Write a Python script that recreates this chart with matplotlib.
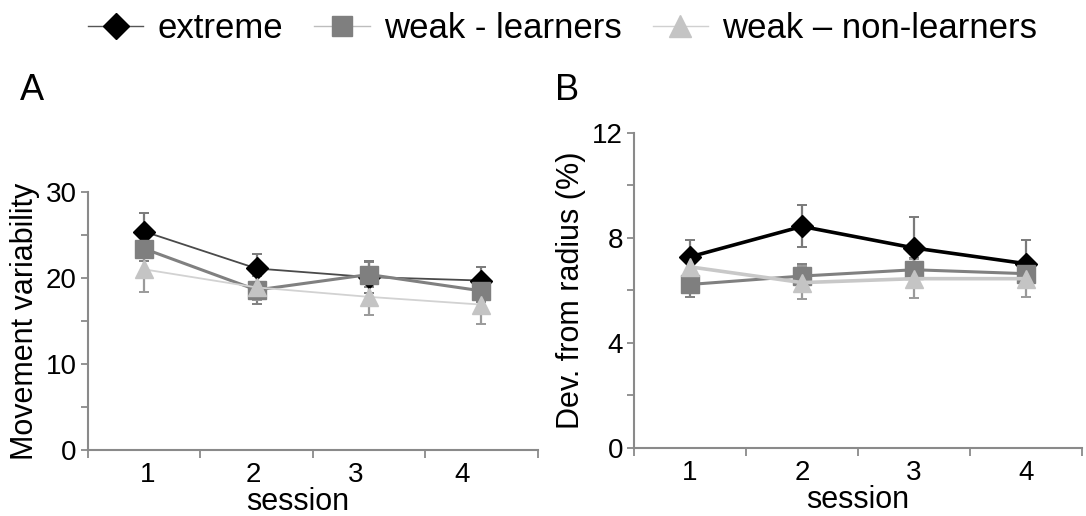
import matplotlib.pyplot as plt
from matplotlib.lines import Line2D
from matplotlib.ticker import MultipleLocator, FixedLocator

plt.rcParams["font.family"] = ["Liberation Sans", "DejaVu Sans"]

sessions = [1, 2, 3, 4]
session_labels = ["1", "2", "3", "4"]
names = ["extreme", "weak - learners", "weak \u2013 non-learners"]

# panel A: movement variability
a_extreme = [25.4, 21.1, 20.1, 19.7]
a_extreme_err = [2.1, 1.7, 1.9, 1.6]
a_learners = [23.4, 18.6, 20.4, 18.5]
a_learners_err = [1.4, 1.6, 1.4, 1.3]
a_nonlearners = [21.0, 18.9, 17.8, 16.9]
a_nonlearners_err = [2.6, 1.5, 2.1, 2.3]

# panel B: deviation from radius (%)
b_extreme = [7.28, 8.44, 7.62, 7.02]
b_extreme_err = [0.63, 0.80, 1.18, 0.90]
b_learners = [6.23, 6.55, 6.79, 6.64]
b_learners_err = [0.48, 0.45, 0.45, 0.40]
b_nonlearners = [6.90, 6.30, 6.45, 6.45]
b_nonlearners_err = [0.40, 0.62, 0.74, 0.69]

markers = ["D", "s", "^"]
mcolors = ["#000000", "#7f7f7f", "#c4c4c4"]
msizes = [11.5, 12.5, 13.5]
ecolors = ["#7a7a7a", "#808080", "#9a9a9a"]

fig = plt.figure(figsize=(10.86, 5.16), dpi=100)
axA = fig.add_axes([0.081, 0.128, 0.414, 0.500])
axB = fig.add_axes([0.5838, 0.1318, 0.4125, 0.6105])


def draw(ax, series, errs, lcolors, lwidths):
    for i, (y, e) in enumerate(zip(series, errs)):
        ax.errorbar(sessions, y, yerr=e, fmt="none", ecolor=ecolors[i],
                    elinewidth=1.6, capsize=3.5, capthick=1.4, zorder=1)
    for i, y in enumerate(series):
        ax.plot(sessions, y, color=lcolors[i], lw=lwidths[i], zorder=2 + i,
                marker=markers[i], markersize=msizes[i],
                markerfacecolor=mcolors[i], markeredgecolor=mcolors[i])


def style(ax, ymax, major, minor, ylabel, label_pos, xlabel_x):
    ax.set_xlim(0.5, 4.5)
    ax.set_ylim(0, ymax)
    for s in ["top", "right"]:
        ax.spines[s].set_visible(False)
    for s in ["left", "bottom"]:
        ax.spines[s].set_color("#8a8a8a")
        ax.spines[s].set_linewidth(1.5)
    ax.yaxis.set_major_locator(MultipleLocator(major))
    ax.yaxis.set_minor_locator(MultipleLocator(minor))
    ax.set_xticks(label_pos)
    ax.set_xticklabels(session_labels)
    ax.xaxis.set_minor_locator(FixedLocator([0.5, 1.5, 2.5, 3.5, 4.5]))
    ax.tick_params(axis="x", which="major", length=0, pad=9, labelsize=20)
    ax.tick_params(axis="x", which="minor", length=6, width=1.3, color="#8a8a8a")
    ax.tick_params(axis="y", which="both", length=5, width=1.3, color="#8a8a8a",
                   labelsize=20, pad=3)
    ax.set_xlabel("session", fontsize=22, labelpad=1)
    # place label centre ~62 px below the axis line
    ax.xaxis.set_label_coords(xlabel_x, -0.072 / ax.get_position().height,)
    ax.xaxis.label.set_va("top")
    ax.set_ylabel(ylabel, fontsize=22, labelpad=4)


draw(axA, [a_extreme, a_learners, a_nonlearners],
     [a_extreme_err, a_learners_err, a_nonlearners_err],
     ["#4a4a4a", "#808080", "#d2d2d2"], [1.3, 2.2, 1.3])
style(axA, 30, 10, 5, "Movement variability", [1.03, 1.97, 2.88, 3.83], 0.467)

draw(axB, [b_extreme, b_learners, b_nonlearners],
     [b_extreme_err, b_learners_err, b_nonlearners_err],
     ["#000000", "#808080", "#c8c8c8"], [2.6, 2.2, 2.6])
style(axB, 12, 4, 2, "Dev. from radius (%)", sessions, 0.5)

fig.text(0.018, 0.825, "A", fontsize=26, va="center")
fig.text(0.511, 0.825, "B", fontsize=26, va="center")

handles = [Line2D([], [], color="#555555", lw=1, marker=markers[i],
                  markersize=msizes[i] + 2, markerfacecolor=mcolors[i],
                  markeredgecolor=mcolors[i]) for i in range(3)]
handles[1].set_color("#bdbdbd")
handles[2].set_color("#d0d0d0")
fig.legend(handles, names, loc="center", bbox_to_anchor=(0.518, 0.945), ncol=3,
           frameon=False, fontsize=25, handlelength=1.6, handletextpad=0.4,
           columnspacing=0.9)

plt.savefig("out.png", dpi=100)
